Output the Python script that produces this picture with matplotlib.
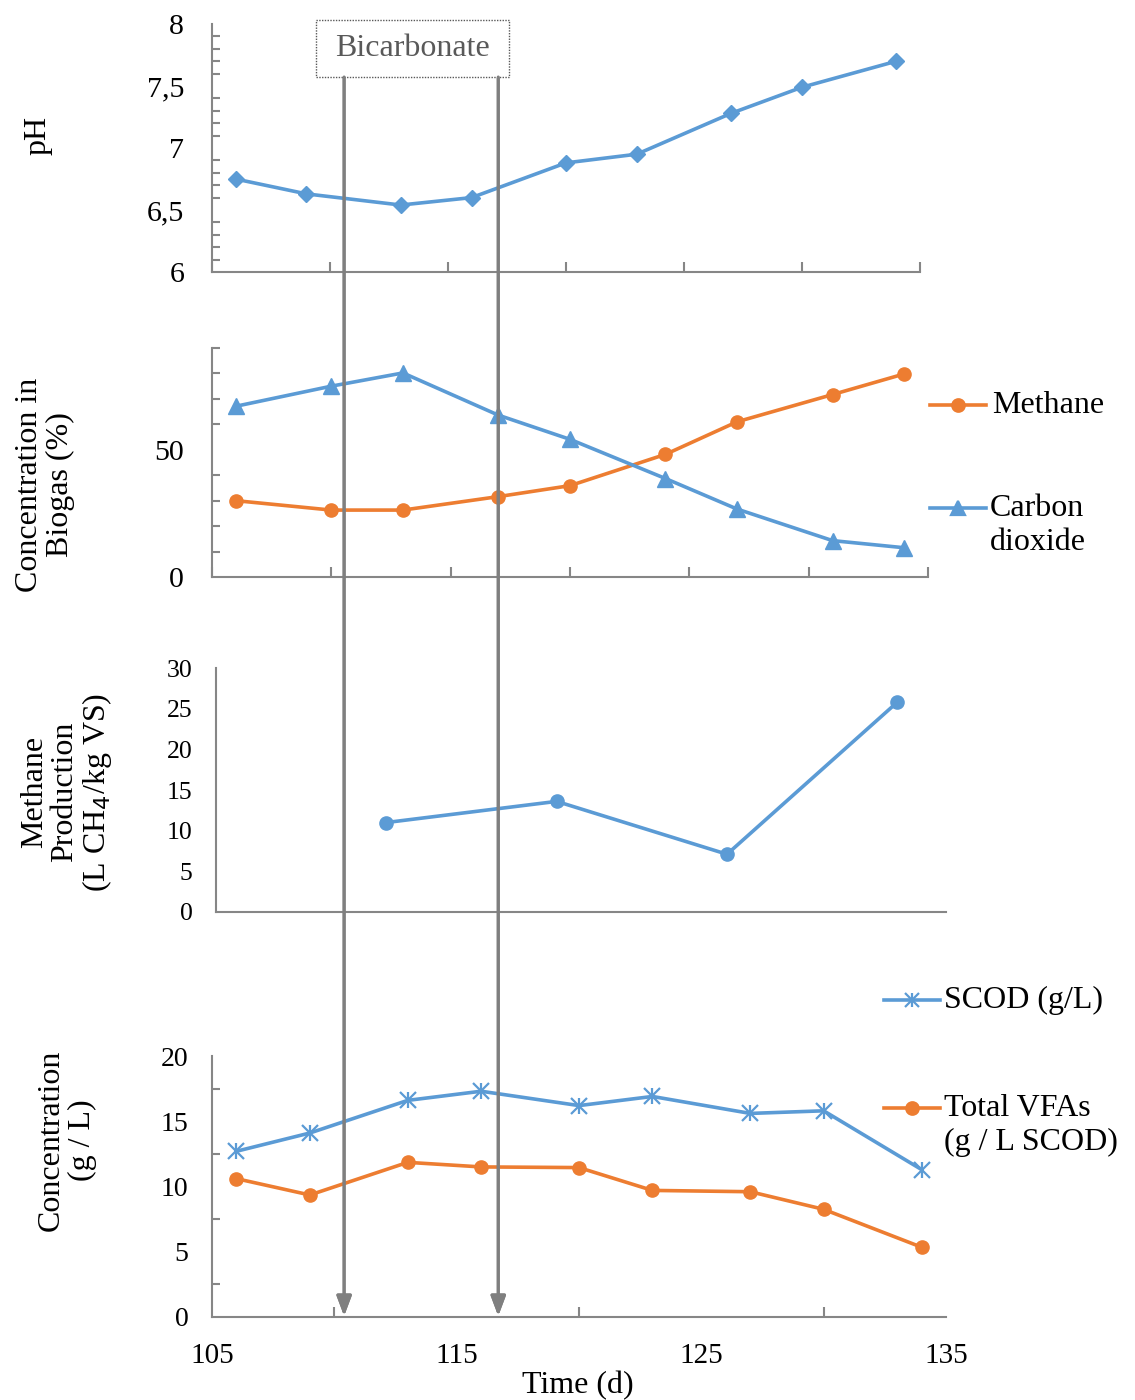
import matplotlib
matplotlib.use("Agg")
import matplotlib.pyplot as plt
from matplotlib.lines import Line2D
from matplotlib.patches import Rectangle
from matplotlib.ticker import MultipleLocator, FixedLocator, FuncFormatter

# ==========================================================
# DATA
# ==========================================================

ph_days = [106, 109, 113, 116, 120, 123, 127, 130, 134]
ph_values = [6.75, 6.63, 6.54, 6.60, 6.88, 6.95, 7.28, 7.49, 7.70]

gas_days = [106, 110, 113, 117, 120, 124, 127, 131, 134]
methane_pct = [30.0, 26.3, 26.3, 31.6, 35.9, 48.2, 61.0, 71.7, 79.8]
co2_pct = [67.1, 75.0, 80.2, 63.6, 54.1, 38.7, 26.7, 14.3, 11.5]

prod_days = [112, 119, 126, 133]
methane_prod = [11.0, 13.6, 7.1, 25.8]

conc_days = [106, 109, 113, 116, 120, 123, 127, 130, 134]
scod = [12.7, 14.1, 16.6, 17.3, 16.2, 16.9, 15.6, 15.8, 11.3]
vfas = [10.6, 9.35, 11.85, 11.5, 11.45, 9.7, 9.6, 8.25, 5.35]

time_labels = [105, 115, 125, 135]
bicarb_days = [110.4, 116.7]

# ==========================================================
# STYLE
# ==========================================================

plt.rcParams["font.family"] = ["Liberation Serif", "DejaVu Serif"]
BLUE = "#5B9BD5"
ORANGE = "#ED7D31"
GREY = "#868686"
LW = 2.6
W, H = 1135, 1400
FS = 23

fig = plt.figure(figsize=(W / 100, H / 100), dpi=100)


def box(x0, y0, x1, y1):
    # pixel box (top-left origin) -> figure fraction rect
    return [x0 / W, 1 - y1 / H, (x1 - x0) / W, (y1 - y0) / H]


def fx(px):
    return px / W


def fy(py):
    return 1 - py / H


def style_axes(ax):
    for s in ["top", "right"]:
        ax.spines[s].set_visible(False)
    for s in ["left", "bottom"]:
        ax.spines[s].set_color(GREY)
        ax.spines[s].set_linewidth(1.5)
    ax.tick_params(which="both", direction="in", color=GREY, width=1.5)
    ax.tick_params(which="major", length=7)
    ax.tick_params(which="minor", length=6)
    ax.set_xlim(105, 135)


# ---------------- pH ----------------
ax1 = fig.add_axes(box(212, 24, 920, 272))
style_axes(ax1)
ax1.plot(ph_days, ph_values, color=BLUE, lw=LW, marker="D", ms=8.5,
         clip_on=False)
ax1.set_ylim(6, 8)
ax1.yaxis.set_major_locator(MultipleLocator(0.5))
ax1.yaxis.set_minor_locator(MultipleLocator(0.1))
ax1.yaxis.set_major_formatter(FuncFormatter(
    lambda v, p: f"{v:g}".replace(".", ",")))
ax1.xaxis.set_major_locator(MultipleLocator(5))
ax1.tick_params(axis="x", labelbottom=False)
ax1.tick_params(axis="y", which="major", length=0, pad=20, labelsize=21.5)
fig.text(fx(38), fy(135), "pH", rotation=90, ha="center", va="center",
         fontsize=FS)

# ---------------- biogas ----------------
ax2 = fig.add_axes(box(212, 348, 928, 577))
style_axes(ax2)
ax2.plot(gas_days, methane_pct, color=ORANGE, lw=LW, marker="o", ms=9.5,
         clip_on=False)
ax2.plot(gas_days, co2_pct, color=BLUE, lw=LW, marker="^", ms=11,
         clip_on=False)
ax2.set_ylim(0, 90)
ax2.yaxis.set_major_locator(MultipleLocator(50))
ax2.yaxis.set_minor_locator(MultipleLocator(10))
ax2.xaxis.set_major_locator(MultipleLocator(5))
ax2.tick_params(axis="x", labelbottom=False)
ax2.tick_params(axis="y", which="major", length=0, pad=20, labelsize=21.5)
fig.text(fx(45), fy(485), "Concentration in\nBiogas (%)", rotation=90,
         ha="center", va="center", fontsize=FS, linespacing=1.1)

# ---------------- methane production ----------------
ax3 = fig.add_axes(box(216, 668, 946, 912))
style_axes(ax3)
ax3.plot(prod_days, methane_prod, color=BLUE, lw=LW, marker="o", ms=9.5,
         clip_on=False)
ax3.set_ylim(0, 30)
ax3.yaxis.set_major_locator(MultipleLocator(5))
ax3.tick_params(axis="x", length=0, labelbottom=False)
ax3.tick_params(axis="y", length=0, labelsize=18.5, pad=17)
fig.text(fx(67), fy(792), "Methane\nProduction\n(L CH$_4$/kg VS)",
         rotation=90, ha="center", va="center", fontsize=FS,
         linespacing=1.05)

# ---------------- SCOD / VFAs ----------------
ax4 = fig.add_axes(box(212, 1056, 946, 1317))
style_axes(ax4)
ax4.plot(conc_days, scod, color=BLUE, lw=LW, marker="x", ms=11, mew=1.6,
         clip_on=False)
ax4.plot(conc_days, scod, color=BLUE, lw=0, marker="|", ms=11, mew=1.6,
         clip_on=False)
ax4.plot(conc_days, vfas, color=ORANGE, lw=LW, marker="o", ms=9.5,
         clip_on=False)
ax4.set_ylim(0, 20)
ax4.yaxis.set_major_locator(MultipleLocator(5))
ax4.yaxis.set_minor_locator(MultipleLocator(2.5))
ax4.xaxis.set_major_locator(FixedLocator(time_labels))
ax4.xaxis.set_minor_locator(MultipleLocator(5))
ax4.tick_params(axis="x", which="major", length=0, pad=19, labelsize=21)
ax4.tick_params(axis="x", which="minor", length=7)
ax4.tick_params(axis="y", which="major", length=0, pad=17, labelsize=20)
fig.text(fx(67), fy(1140), "Concentration\n(g / L)", rotation=90,
         ha="center", va="center", fontsize=FS, linespacing=1.1)
fig.text(fx(578), fy(1386), "Time (d)", ha="center", va="center",
         fontsize=FS)

# ---------------- legends (drawn by hand) ----------------
def legend_item(y, x0, x1, color, marker, ms, label, tx, ty=None):
    fig.add_artist(Line2D([fx(x0), fx(x1)], [fy(y), fy(y)], color=color,
                          lw=LW, transform=fig.transFigure))
    fig.add_artist(Line2D([fx((x0 + x1) / 2)], [fy(y)], color=color,
                          marker=marker, ms=ms, mew=1.6,
                          transform=fig.transFigure))
    if ty is None:
        fig.text(fx(tx), fy(y), label, ha="left", va="center", fontsize=FS)
    else:
        fig.text(fx(tx), fy(ty), label, ha="left", va="top", fontsize=FS,
                 linespacing=1.22)


legend_item(405, 930, 986, ORANGE, "o", 9, "Methane", 992)
legend_item(508, 930, 986, BLUE, "^", 10, "Carbon\ndioxide", 990, 494)
legend_item(1000, 884, 940, BLUE, "x", 10, "SCOD (g/L)", 944)
fig.add_artist(Line2D([fx(912)], [fy(1000)], color=BLUE, marker="|", ms=10,
                      mew=1.6, transform=fig.transFigure))
legend_item(1108, 884, 940, ORANGE, "o", 9, "Total VFAs\n(g / L SCOD)",
            944, 1094)

# ---------------- bicarbonate arrows ----------------
for d in bicarb_days:
    xpx = 212 + (d - 105) / 30 * (946 - 212)
    fig.add_artist(plt.annotate(
        "", xy=(fx(xpx), fy(1316)), xytext=(fx(xpx), fy(77)),
        xycoords="figure fraction", textcoords="figure fraction",
        arrowprops=dict(arrowstyle="-|>,head_length=1.2,head_width=0.45",
                        color="#7F7F7F", lw=2.2, shrinkA=0, shrinkB=0)))

fig.add_artist(Rectangle((fx(316), fy(77)), fx(509) - fx(316),
                         fy(20) - fy(77), transform=fig.transFigure,
                         facecolor="white", edgecolor="#595959", lw=1,
                         linestyle=(0, (1, 1))))
fig.text(fx(412), fy(48), "Bicarbonate", ha="center", va="center",
         fontsize=FS, color="#595959")

fig.savefig("out.png", dpi=100)
